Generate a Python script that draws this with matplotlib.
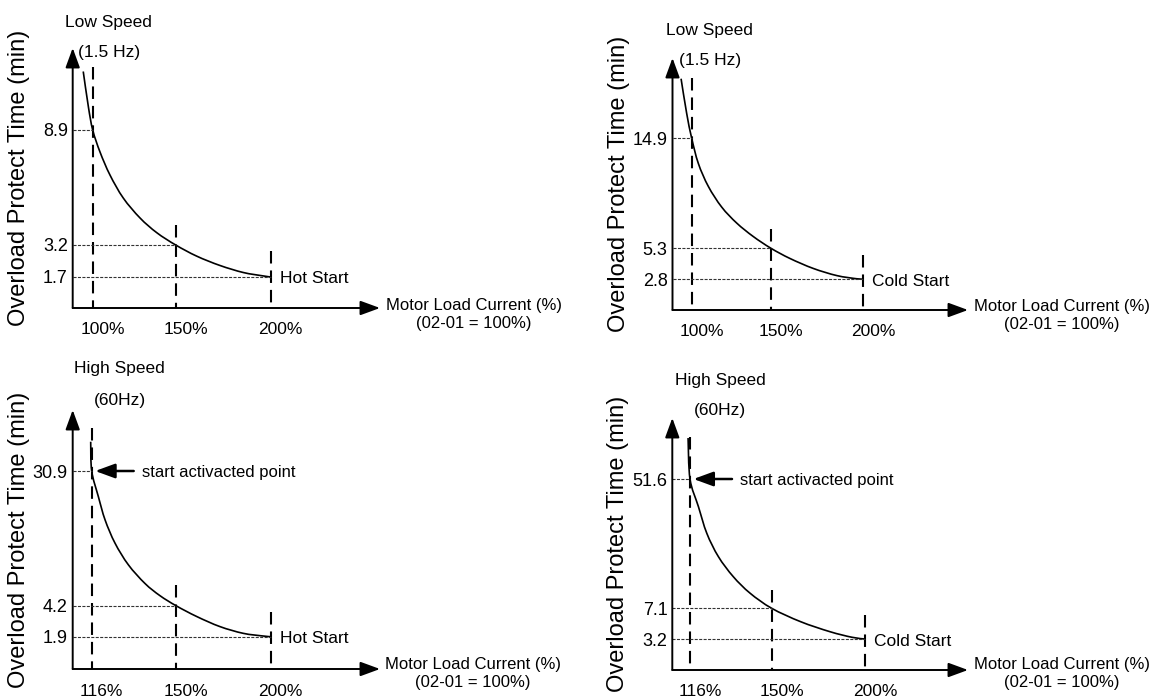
'''
draws the four overload protect time sketches (low / high speed, hot / cold start)
the axes are schematic, so every panel gets a piecewise linear scale through its labelled levels
'''
## Imports
import numpy as np
import matplotlib
matplotlib.use("Agg")
import matplotlib.pyplot as plt
from matplotlib.path import Path
from matplotlib.patches import PathPatch

## fonts and dashes given in points
plt.rcParams['font.family'] = ['Liberation Sans', 'DejaVu Sans']
plt.rcParams['lines.scale_dashes'] = False

## ---- data: motor load current (%) and protect time (min)
low_hot_current = [100, 150, 200]
low_hot_time = [8.9, 3.2, 1.7]
low_hot_curve_x = [94.3, 97.4, 100, 104.4, 110.4, 118.4, 128.5, 138.6, 150, 161.0, 173.3, 185.6, 196.1, 200]
low_hot_curve_y = [11.8, 10.05, 8.9, 7.81, 6.67, 5.53, 4.54, 3.81, 3.2, 2.68, 2.24, 1.91, 1.75, 1.7]
low_hot_guide_top = [12.0, 4.2, 2.9]

low_cold_current = [100, 150, 200]
low_cold_time = [14.9, 5.3, 2.8]
low_cold_curve_x = [93.3, 96.8, 100, 104.2, 110.5, 118.9, 128.4, 138.8, 150, 160.3, 172.9, 185.6, 196.4, 200]
low_cold_curve_y = [20.1, 17.1, 14.9, 12.7, 10.7, 8.9, 7.5, 6.33, 5.3, 4.47, 3.66, 3.08, 2.82, 2.8]
low_cold_guide_top = [20.2, 7.0, 4.75]

high_hot_current = [116, 150, 200]
high_hot_time = [30.9, 4.2, 1.9]
high_hot_curve_x = [115.6, 116, 118.7, 121.4, 125.4, 130.8, 137.5, 143.5, 150, 160.9, 173.2, 185.5, 196.1, 200]
high_hot_curve_y = [36.7, 30.9, 25.8, 21.2, 16.6, 12.3, 8.6, 6.2, 4.2, 3.4, 2.65, 2.15, 1.95, 1.9]
high_hot_guide_top = [39.4, 8.3, 3.75]

high_cold_current = [116, 150, 200]
high_cold_time = [51.6, 7.1, 3.2]
high_cold_curve_x = [115.2, 116, 119.5, 123, 127.8, 134, 141, 150, 165.5, 181.2, 193, 200]
high_cold_curve_y = [65.7, 51.6, 42.1, 32.9, 24.9, 18, 12.3, 7.1, 5.4, 4.13, 3.42, 3.2]
high_cold_guide_top = [66.2, 13.4, 6.25]

## ---- layout in pixels (origin = axis corner from top left, size = arrow lengths)
FIG_W, FIG_H = 1151, 700
LAYOUTS = [
    dict(origin=(72.7, 308), size=(307.3, 260), x_px=[20, 103, 198], y_px=[178, 63, 31],
         title=('Low Speed', '(1.5 Hz)'), title_off=(16, 26, -4), end='Hot Start', axis_off=(6, -7)),
    dict(origin=(672.5, 310), size=(295.5, 252), x_px=[19.2, 98.5, 190.8], y_px=[171.7, 61.7, 31],
         title=('Low Speed', '(1.5 Hz)'), title_off=(18, 28, -2), end='Cold Start', axis_off=(6, -5)),
    dict(origin=(72.7, 669), size=(307.3, 259), x_px=[19, 103.3, 198], y_px=[198, 63.3, 32.3],
         title=('High Speed', '(60Hz)'), title_off=(28, 42, 10), end='Hot Start', axis_off=(5, -5)),
    dict(origin=(672.3, 670), size=(295.7, 252), x_px=[17.7, 99.4, 192.7], y_px=[191, 61.7, 31],
         title=('High Speed', '(60Hz)'), title_off=(30, 38, 8), end='Cold Start', axis_off=(6, -4)),
]
FS = 12.5


def lerp(v, xp, fp):
    '''
    piecewise linear map with linear extrapolation at both ends
    '''
    v = np.asarray(v, dtype=float)
    inner = np.interp(v, xp, fp)
    lo = fp[0] + (v - xp[0]) * (fp[1] - fp[0]) / (xp[1] - xp[0])
    hi = fp[-1] + (v - xp[-1]) * (fp[-1] - fp[-2]) / (xp[-1] - xp[-2])
    return np.where(v < xp[0], lo, np.where(v > xp[-1], hi, inner))


def make_scale(values, pixels) -> tuple:
    '''
    forward / inverse functions for a schematic axis (data -> pixels from the origin)
    '''
    order = np.argsort(values)
    k = np.asarray(values, dtype=float)[order]
    p = np.asarray(pixels, dtype=float)[order]
    return (lambda v: lerp(v, k, p)), (lambda v: lerp(v, p, k))


def smooth_curve(u, v) -> Path:
    '''
    catmull-rom bezier path through the given points (in scaled coordinates)
    '''
    pts = np.column_stack([u, v])
    n = len(pts)
    verts, codes = [pts[0]], [Path.MOVETO]
    for i in range(n - 1):
        p0 = pts[i - 1] if i > 0 else pts[i]
        p1, p2 = pts[i], pts[i + 1]
        p3 = pts[i + 2] if i + 2 < n else pts[i + 1]
        verts += [p1 + (p2 - p0) / 6, p2 - (p3 - p1) / 6, p2]
        codes += [Path.CURVE4] * 3
    return Path(np.array(verts), codes)


def draw_panel(fig, lay, current, time, curve_x, curve_y, guide_top, with_start) -> None:
    '''
    draws one panel: axes arrows, guides, curve and all the labels
    '''
    ox, oy = lay['origin']
    w, h = lay['size']
    ax = fig.add_axes([ox / FIG_W, 1 - oy / FIG_H, w / FIG_W, h / FIG_H])
    ## schematic scales, transformed units are pixels from the origin
    fx = make_scale(current, lay['x_px'])
    fy = make_scale([0] + list(time), [0] + list(lay['y_px']))
    ax.set_xscale('function', functions=fx)
    ax.set_yscale('function', functions=fy)
    x0, x1 = float(fx[1](0)), float(fx[1](w))
    y0, y1 = float(fy[1](0)), float(fy[1](h))

    ## long dashed guides at the three currents
    for c, top in zip(current, guide_top):
        ax.plot([c, c], [top, y0], color='black', lw=1.5, dashes=(9, 5))
    ## fine dotted levels from the axis to the curve
    for c, t in zip(current, time):
        ax.plot([x0, c], [t, t], color='#333333', lw=0.8, dashes=(2.2, 1.0))
    ax.set_xlim(x0, x1)
    ax.set_ylim(y0, y1)

    ## protect time curve, smoothed through the read points in scaled space
    path = smooth_curve(fx[0](curve_x), fy[0](curve_y))
    ax.add_patch(PathPatch(path, facecolor='none', edgecolor='black', lw=1.2,
                           transform=ax.transLimits + ax.transAxes))

    for s in ax.spines.values():
        s.set_visible(False)

    ## axes with arrow heads
    arrow = dict(arrowstyle='-|>,head_length=0.6,head_width=0.22', mutation_scale=20,
                 lw=1.4, color='black', shrinkA=0, shrinkB=0)
    ax.annotate('', xy=(0, 1), xytext=(0, 0), xycoords='axes fraction', arrowprops=arrow)
    ax.annotate('', xy=(1, 0), xytext=(0, 0), xycoords='axes fraction', arrowprops=arrow)

    ## tick labels
    ax.set_xticks([])
    ax.set_yticks(time, labels=[str(t) for t in time], fontsize=FS + 0.5)
    ax.tick_params(axis='y', length=0, pad=3.5)
    for c in current:
        ax.annotate(f'{c}%', xy=(c, 0), xycoords=('data', 'axes fraction'), xytext=(10, -22),
                    textcoords='offset pixels', ha='center', va='center', fontsize=FS)

    ## speed title above the first guide
    dx, dy1, dy2 = lay['title_off']
    for txt, dy in zip(lay['title'], (dy1, dy2)):
        ax.annotate(txt, xy=(current[0], 1), xycoords=('data', 'axes fraction'), xytext=(dx, dy),
                    textcoords='offset pixels', ha='center', va='center', fontsize=FS)

    ## start type next to the last point
    ax.annotate(lay['end'], xy=(current[-1], time[-1]), xytext=(9, -2), textcoords='offset pixels',
                ha='left', va='center', fontsize=FS)

    ## x axis title
    ax.annotate('Motor Load Current (%)\n(02-01 = 100%)', xy=(1, 0), xycoords='axes fraction',
                xytext=lay['axis_off'], textcoords='offset pixels', ha='left', va='center',
                multialignment='center', linespacing=1.25, fontsize=12)

    ## y axis title
    ax.annotate('Overload Protect Time (min)', xy=(0, 0.5), xycoords='axes fraction', xytext=(-54, 0),
                textcoords='offset pixels', rotation=90, ha='center', va='center', fontsize=17)

    ## start activated point marker for the high speed panels
    if with_start:
        ax.annotate('', xy=(current[0], time[0]), xytext=(42, 0), textcoords='offset pixels',
                    arrowprops=dict(arrowstyle='-|>,head_length=0.6,head_width=0.22', mutation_scale=20,
                                    lw=1.8, color='black', shrinkA=0, shrinkB=2.5))
        ax.annotate('start activacted point', xy=(current[0], time[0]), xytext=(50, -1),
                    textcoords='offset pixels', ha='left', va='center', fontsize=12)


def main() -> None:
    '''
    builds the figure and saves it
    '''
    fig = plt.figure(figsize=(FIG_W / 100, FIG_H / 100), dpi=100)
    draw_panel(fig, LAYOUTS[0], low_hot_current, low_hot_time, low_hot_curve_x, low_hot_curve_y,
               low_hot_guide_top, False)
    draw_panel(fig, LAYOUTS[1], low_cold_current, low_cold_time, low_cold_curve_x, low_cold_curve_y,
               low_cold_guide_top, False)
    draw_panel(fig, LAYOUTS[2], high_hot_current, high_hot_time, high_hot_curve_x, high_hot_curve_y,
               high_hot_guide_top, True)
    draw_panel(fig, LAYOUTS[3], high_cold_current, high_cold_time, high_cold_curve_x, high_cold_curve_y,
               high_cold_guide_top, True)
    fig.savefig('out.png', dpi=100)


if __name__ == "__main__":
    main()
